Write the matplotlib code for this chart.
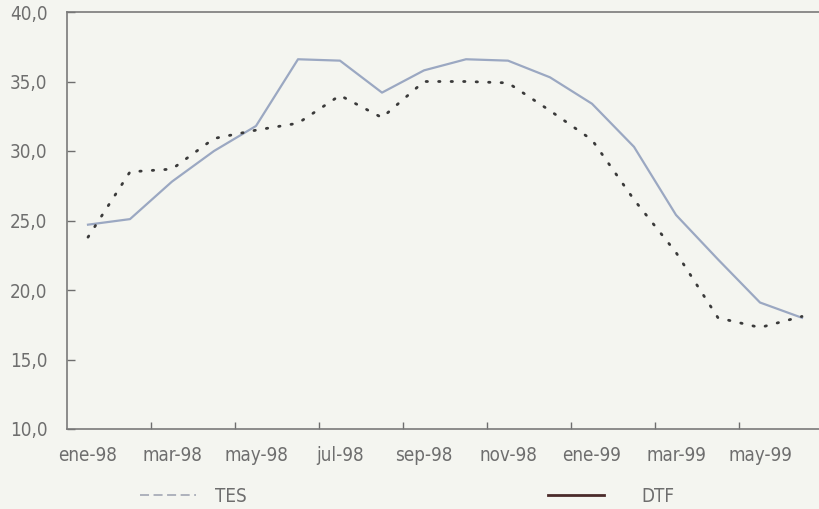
import matplotlib.pyplot as plt
from matplotlib.lines import Line2D
import numpy as np

months = ['ene-98', 'feb-98', 'mar-98', 'abr-98', 'may-98', 'jun-98',
          'jul-98', 'ago-98', 'sep-98', 'oct-98', 'nov-98', 'dic-98',
          'ene-99', 'feb-99', 'mar-99', 'abr-99', 'may-99', 'jun-99']
tes = [24.7, 25.1, 27.8, 30.0, 31.8, 36.6, 36.5, 34.2, 35.8, 36.6,
       36.5, 35.3, 33.4, 30.3, 25.4, 22.2, 19.1, 18.0]
dtf = [23.8, 28.5, 28.7, 30.9, 31.5, 32.0, 34.0, 32.4, 35.0, 35.0,
       34.9, 32.9, 30.8, 26.5, 22.7, 18.0, 17.3, 18.1]
yticks = [10, 15, 20, 25, 30, 35, 40]

bg = '#f4f5f0'
grey = '#6e6e6e'
plt.rcParams['font.family'] = ['DejaVu Sans']
plt.rcParams['font.stretch'] = 'condensed'

fig = plt.figure(figsize=(8.19, 5.09), dpi=100, facecolor=bg)
ax = fig.add_axes([67/819, 80/509, 756/819, 417/509], facecolor=bg)

x = np.arange(len(months))
ax.plot(x, tes, color='#9ba8c2', lw=1.6, solid_joinstyle='round')
ax.plot(x, dtf, color='#3a3a3a', lw=2.0, linestyle=(0, (0.5, 4)),
        dash_capstyle='round')

ax.set_xlim(-0.5, len(months) - 0.5)
ax.set_ylim(10, 40)

# tick marks on category boundaries, labels on every other month
ax.set_xticks(np.arange(1.5, len(months) - 1, 2))
ax.set_xticklabels([])
ax.set_xticks(x[::2], minor=True)
ax.set_xticklabels(months[::2], minor=True)
ax.tick_params(axis='x', which='major', direction='in', length=5,
               color=grey, width=1)
ax.tick_params(axis='x', which='minor', length=0, pad=12.5,
               labelsize=13.5, labelcolor=grey)

ax.set_yticks(yticks)
ax.set_yticklabels([('%.1f' % v).replace('.', ',') for v in yticks])
ax.tick_params(axis='y', direction='in', length=6, color=grey, width=1,
               pad=14, labelsize=13.5, labelcolor=grey)

for s in ax.spines.values():
    s.set_color('#7a7a7a')
    s.set_linewidth(1.2)

h1 = Line2D([], [], color='#a8acb8', lw=1.3, linestyle=(0, (5, 2.5)))
h2 = Line2D([], [], color='#4a2a2a', lw=2)
fig.legend(handles=[h1], labels=['TES'], loc='center left',
           bbox_to_anchor=(140/819, 1 - 496/509), frameon=False,
           borderpad=0, borderaxespad=0, handlelength=3.0,
           handletextpad=1.0, fontsize=13.5, labelcolor=grey)
fig.legend(handles=[h2], labels=['DTF'], loc='center left',
           bbox_to_anchor=(548/819, 1 - 496/509), frameon=False,
           borderpad=0, borderaxespad=0, handlelength=3.0,
           handletextpad=2.0, fontsize=13.5, labelcolor=grey)

plt.savefig('out.png', dpi=100, facecolor=bg)
